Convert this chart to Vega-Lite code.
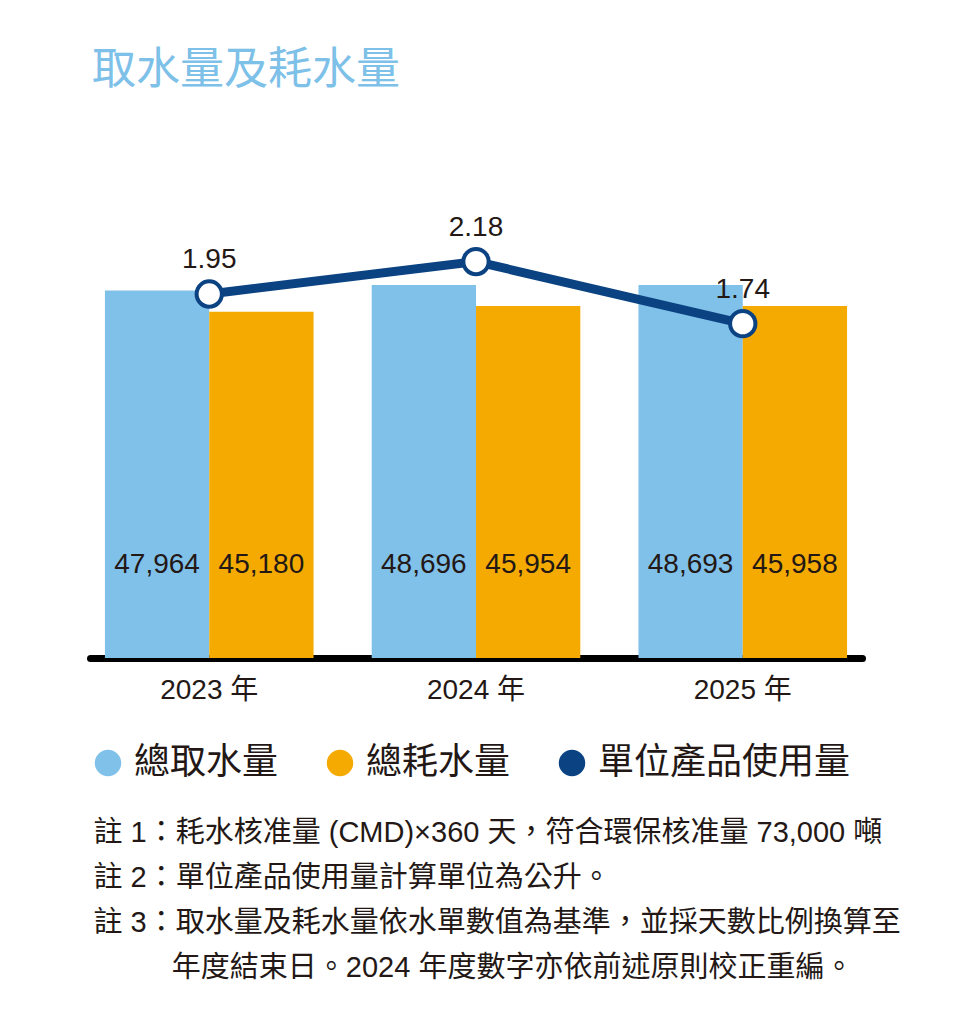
{
  "$schema": "https://vega.github.io/schema/vega-lite/v6.json",
  "width": 772,
  "height": 498,
  "autosize": "none",
  "padding": {"left": 90, "top": 160, "right": 92, "bottom": 366},
  "background": "white",
  "title": {
    "text": "取水量及耗水量",
    "anchor": "start",
    "frame": "group",
    "color": "#7DC0E8",
    "fontSize": 44,
    "font": "Noto Sans CJK TC",
    "fontWeight": "normal",
    "offset": 67,
    "dx": 2
  },
  "config": {
    "view": {"stroke": null},
    "text": {"font": "'Liberation Sans', 'Noto Sans CJK TC'", "color": "#231815"}
  },
  "datasets": {
    "water": [
      {"year": "2023 年", "series": "總取水量", "value": 47964},
      {"year": "2023 年", "series": "總耗水量", "value": 45180},
      {"year": "2024 年", "series": "總取水量", "value": 48696},
      {"year": "2024 年", "series": "總耗水量", "value": 45954},
      {"year": "2025 年", "series": "總取水量", "value": 48693},
      {"year": "2025 年", "series": "總耗水量", "value": 45958}
    ],
    "ratio": [
      {"year": "2023 年", "ratio": 1.95},
      {"year": "2024 年", "ratio": 2.18},
      {"year": "2025 年", "ratio": 1.74}
    ]
  },
  "encoding": {
    "x": {
      "field": "year",
      "type": "nominal",
      "sort": null,
      "scale": {"paddingInner": 0.218, "paddingOuter": 0.056},
      "axis": {
        "title": [
          "註 1：耗水核准量 (CMD)×360 天，符合環保核准量 73,000 噸",
          "註 2：單位產品使用量計算單位為公升。",
          "註 3：取水量及耗水量依水單數值為基準，並採天數比例換算至",
          "\u200b　　\u2002\u2009年度結束日。2024 年度數字亦依前述原則校正重編。"
        ],
        "titleFont": "'Liberation Sans', 'Noto Sans CJK TC'",
        "titleFontSize": 29,
        "titleFontWeight": "normal",
        "titleColor": "#231815",
        "titleAnchor": "start",
        "titleAlign": "left",
        "titleBaseline": "top",
        "titleLineHeight": 45.3,
        "titlePadding": 114,
        "titleX": 3,
        "labelAngle": 0,
        "labelFont": "'Liberation Sans', 'Noto Sans CJK TC'",
        "labelFontSize": 28,
        "labelColor": "#231815",
        "labelPadding": 18,
        "ticks": false,
        "domainColor": "#000000",
        "domainWidth": 7,
        "domainCap": "round"
      }
    }
  },
  "layer": [
    {
      "data": {"name": "water"},
      "encoding": {
        "xOffset": {"field": "series", "type": "nominal", "sort": null, "scale": {"padding": 0}}
      },
      "layer": [
        {
          "mark": {"type": "bar"},
          "encoding": {
            "y": {
              "field": "value",
              "type": "quantitative",
              "scale": {"domain": [0, 63000]},
              "axis": null
            },
            "color": {
              "field": "series",
              "type": "nominal",
              "scale": {
                "domain": ["總取水量", "總耗水量", "單位產品使用量"],
                "range": ["#80C1EA", "#F4AA00", "#0B4282"]
              },
              "legend": {
                "title": null,
                "orient": "none",
                "legendX": 0,
                "legendY": 585,
                "direction": "horizontal",
                "padding": 0,
                "symbolType": "circle",
                "symbolSize": 700,
                "symbolStrokeWidth": 0,
                "symbolOpacity": 1,
                "labelFont": "Noto Sans CJK TC",
                "labelFontSize": 36,
                "labelColor": "#231815",
                "labelOffset": 8,
                "labelLimit": 400,
                "columnPadding": 43,
                "encode": {
                  "symbols": {
                    "update": {
                      "fill": {"scale": "color", "field": "value"},
                      "opacity": {"value": 1},
                      "strokeWidth": {"value": 0}
                    }
                  }
                }
              }
            }
          }
        },
        {
          "mark": {"type": "text", "fontSize": 28, "baseline": "middle", "dy": -93},
          "encoding": {
            "y": {"datum": 0, "type": "quantitative"},
            "text": {"field": "value", "type": "quantitative", "format": ","}
          }
        }
      ]
    },
    {
      "data": {"name": "ratio"},
      "encoding": {
        "y": {
          "field": "ratio",
          "type": "quantitative",
          "scale": {"domain": [-0.63, 2.9], "zero": false, "nice": false},
          "axis": null
        }
      },
      "layer": [
        {
          "mark": {"type": "line", "strokeWidth": 9},
          "encoding": {"color": {"datum": "單位產品使用量"}}
        },
        {
          "mark": {"type": "point", "shape": "circle", "filled": false, "fill": "white", "size": 640, "strokeWidth": 4, "opacity": 1},
          "encoding": {"color": {"datum": "單位產品使用量"}}
        },
        {
          "mark": {"type": "text", "fontSize": 28, "baseline": "middle", "dy": -34},
          "encoding": {"text": {"field": "ratio", "type": "quantitative", "format": ".2f"}}
        }
      ]
    }
  ],
  "resolve": {"scale": {"y": "independent"}}
}
